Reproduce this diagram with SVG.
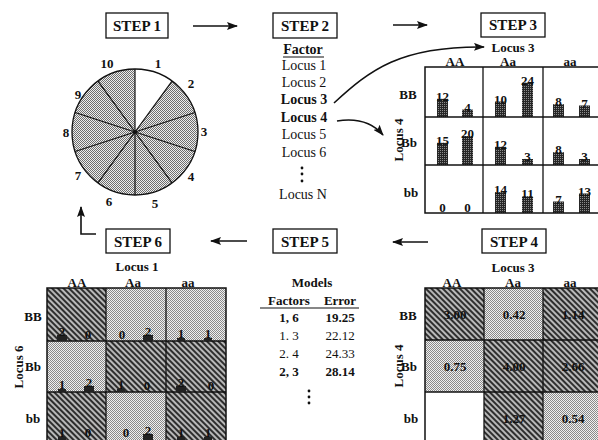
<svg xmlns="http://www.w3.org/2000/svg" width="598" height="440" viewBox="0 0 598 440">
  <style>
    text { font-family: "Liberation Serif", "Times New Roman", serif; fill: #111; }
    .b { font-weight: bold; }
    .step { font-size: 15px; font-weight: bold; text-anchor: middle; }
    .box { fill: #fff; stroke: #111; stroke-width: 1.3; }
    .lbl { font-size: 13px; font-weight: bold; text-anchor: middle; }
    .num { font-size: 13px; font-weight: bold; text-anchor: middle; }
    .list { font-size: 14px; text-anchor: middle; }
    .grid { fill: none; stroke: #111; stroke-width: 1.5; }
    .gl { stroke: #111; stroke-width: 1.3; }
    .bar { fill: url(#barfill); }
    .sbar { fill: #222; }
    .dark { fill: url(#hatch); }
    .light { fill: url(#dots); }
    .arrow { fill: none; stroke: #111; stroke-width: 1.6; marker-end: url(#head); }
    .spoke { stroke: #111; stroke-width: 1.2; }
  </style>
  <defs>
    <marker id="head" markerWidth="11" markerHeight="8" refX="10" refY="4" orient="auto" markerUnits="userSpaceOnUse">
      <path d="M0,0 L11,4 L0,8 L2,4 Z" fill="#111"/>
    </marker>
    <pattern id="piefill" width="2" height="2" patternUnits="userSpaceOnUse">
      <rect width="2" height="2" fill="#eeeeee"/>
      <rect width="1" height="1" fill="#6e6e6e"/>
      <rect x="1" y="1" width="1" height="1" fill="#6e6e6e"/>
    </pattern>
    <pattern id="dots" width="2" height="2" patternUnits="userSpaceOnUse">
      <rect width="2" height="2" fill="#f0f0f0"/>
      <rect width="1" height="1" fill="#8a8a8a"/>
      <rect x="1" y="1" width="1" height="1" fill="#8a8a8a"/>
    </pattern>
    <pattern id="hatch" width="4" height="4" patternUnits="userSpaceOnUse" patternTransform="rotate(-45)">
      <rect width="4" height="4" fill="#b8b8b8"/>
      <rect width="2" height="4" fill="#2e2e2e"/>
    </pattern>
    <pattern id="barfill" width="2" height="2" patternUnits="userSpaceOnUse">
      <rect width="2" height="2" fill="#262626"/>
      <rect width="1" height="1" fill="#8c8c8c"/>
    </pattern>
  </defs>

  <!-- connectors between the steps -->
  <g id="connectors">
    <line class="arrow" x1="193" y1="26" x2="237" y2="26"/>
    <line class="arrow" x1="393" y1="25" x2="427" y2="25"/>
    <line class="arrow" x1="428" y1="242" x2="393" y2="242"/>
    <line class="arrow" x1="247" y1="241" x2="211" y2="241"/>
    <path class="arrow" d="M96,234 L81,234 L81,207"/>
    <path class="arrow" d="M334,103 C370,70 400,46 484,47"/>
    <path class="arrow" d="M337,121 C356,118 372,122 383,135"/>
  </g>

  <!-- step 1: partition of the data into ten parts -->
  <g id="step1">
    <rect class="box" x="106" y="13" width="62" height="25"/>
    <text class="step" x="137" y="31">STEP 1</text>
    <circle cx="135" cy="132" r="63" fill="url(#piefill)"/>
    <path d="M135,132 L135,69 A63,63 0 0 1 172.03,81.03 Z" fill="#fff"/>
    <line class="spoke" x1="135" y1="132" x2="135" y2="69"/>
    <line class="spoke" x1="135" y1="132" x2="172.03" y2="81.03"/>
    <line class="spoke" x1="135" y1="132" x2="194.92" y2="112.53"/>
    <line class="spoke" x1="135" y1="132" x2="194.92" y2="151.47"/>
    <line class="spoke" x1="135" y1="132" x2="172.03" y2="182.97"/>
    <line class="spoke" x1="135" y1="132" x2="135" y2="195"/>
    <line class="spoke" x1="135" y1="132" x2="97.97" y2="182.97"/>
    <line class="spoke" x1="135" y1="132" x2="75.08" y2="151.47"/>
    <line class="spoke" x1="135" y1="132" x2="75.08" y2="112.53"/>
    <line class="spoke" x1="135" y1="132" x2="97.97" y2="81.03"/>
    <circle cx="135" cy="132" r="63" fill="none" stroke="#111" stroke-width="1.3"/>
    <circle cx="135" cy="132" r="2" fill="#111"/>
    <text class="num" x="158" y="68">1</text>
    <text class="num" x="191" y="88">2</text>
    <text class="num" x="204" y="136">3</text>
    <text class="num" x="191" y="181">4</text>
    <text class="num" x="155" y="208">5</text>
    <text class="num" x="109" y="206">6</text>
    <text class="num" x="78" y="180">7</text>
    <text class="num" x="66" y="137">8</text>
    <text class="num" x="78" y="99">9</text>
    <text class="num" x="107" y="68">10</text>
  </g>

  <!-- step 2: choose the factors -->
  <g id="step2">
    <rect class="box" x="273" y="13" width="64" height="25"/>
    <text class="step" x="305" y="31">STEP 2</text>
    <text class="list b" x="303" y="54">Factor</text>
    <line x1="283" y1="57" x2="324" y2="57" stroke="#111" stroke-width="1.2"/>
    <text class="list" x="304" y="70">Locus 1</text>
    <text class="list" x="304" y="87">Locus 2</text>
    <text class="list b" x="304" y="104">Locus 3</text>
    <text class="list b" x="304" y="122">Locus 4</text>
    <text class="list" x="304" y="139">Locus 5</text>
    <text class="list" x="304" y="157">Locus 6</text>
    <circle cx="302" cy="168" r="1.4" fill="#111"/>
    <circle cx="302" cy="174" r="1.4" fill="#111"/>
    <circle cx="302" cy="181" r="1.4" fill="#111"/>
    <text class="list" x="303" y="199">Locus N</text>
  </g>

  <!-- step 3: counts of cases and controls per genotype combination -->
  <g id="step3">
    <rect class="box" x="481" y="13" width="64" height="24"/>
    <text class="step" x="513" y="30">STEP 3</text>
    <text class="lbl" x="513" y="52">Locus 3</text>
    <text class="lbl" x="455" y="66">AA</text>
    <text class="lbl" x="508" y="66">Aa</text>
    <text class="lbl" x="570" y="66">aa</text>
    <text class="lbl" x="408" y="99">BB</text>
    <text class="lbl" x="409" y="147">Bb</text>
    <text class="lbl" x="411" y="197">bb</text>
    <text class="lbl" transform="translate(403,140) rotate(-90)">Locus 4</text>
    <!-- bars -->
    <rect class="bar" x="437" y="98.8" width="11" height="18.2"/>
    <rect class="bar" x="462" y="109.6" width="11" height="7.4"/>
    <rect class="bar" x="495" y="101.5" width="11" height="15.5"/>
    <rect class="bar" x="522" y="82.6" width="11" height="34.4"/>
    <rect class="bar" x="553" y="104.2" width="11" height="12.8"/>
    <rect class="bar" x="579" y="105.5" width="11" height="11.5"/>
    <rect class="bar" x="437" y="142.8" width="11" height="22.2"/>
    <rect class="bar" x="462" y="136" width="11" height="29"/>
    <rect class="bar" x="495" y="146.8" width="11" height="18.2"/>
    <rect class="bar" x="522" y="159" width="11" height="6"/>
    <rect class="bar" x="553" y="152.2" width="11" height="12.8"/>
    <rect class="bar" x="579" y="159" width="11" height="6"/>
    <rect class="bar" x="495" y="192.1" width="11" height="20.9"/>
    <rect class="bar" x="522" y="196.2" width="11" height="16.8"/>
    <rect class="bar" x="553" y="201.5" width="11" height="11.5"/>
    <rect class="bar" x="579" y="193.5" width="11" height="19.5"/>
    <!-- counts -->
    <text class="num" x="442.5" y="101">12</text>
    <text class="num" x="467.5" y="112">4</text>
    <text class="num" x="500.5" y="104">10</text>
    <text class="num" x="527.5" y="85">24</text>
    <text class="num" x="558.5" y="106">8</text>
    <text class="num" x="584.5" y="108">7</text>
    <text class="num" x="442.5" y="145">15</text>
    <text class="num" x="467.5" y="138">20</text>
    <text class="num" x="500.5" y="149">12</text>
    <text class="num" x="527.5" y="161">3</text>
    <text class="num" x="558.5" y="154">8</text>
    <text class="num" x="584.5" y="161">3</text>
    <text class="num" x="442.5" y="212">0</text>
    <text class="num" x="467.5" y="212">0</text>
    <text class="num" x="500.5" y="194">14</text>
    <text class="num" x="527.5" y="198">11</text>
    <text class="num" x="558.5" y="204">7</text>
    <text class="num" x="584.5" y="196">13</text>
    <!-- grid -->
    <rect class="grid" x="425" y="67" width="177" height="146"/>
    <line class="gl" x1="483" y1="67" x2="483" y2="213"/>
    <line class="gl" x1="543" y1="67" x2="543" y2="213"/>
    <line class="gl" x1="425" y1="117" x2="602" y2="117"/>
    <line class="gl" x1="425" y1="165" x2="602" y2="165"/>
  </g>

  <!-- step 4: case/control ratios, high and low risk cells -->
  <g id="step4">
    <rect class="box" x="482" y="229" width="64" height="24"/>
    <text class="step" x="514" y="247">STEP 4</text>
    <text class="lbl" x="513" y="272">Locus 3</text>
    <text class="lbl" x="452" y="287">AA</text>
    <text class="lbl" x="513" y="287">Aa</text>
    <text class="lbl" x="570" y="287">aa</text>
    <text class="lbl" x="408" y="320">BB</text>
    <text class="lbl" x="409" y="371">Bb</text>
    <text class="lbl" x="411" y="423">bb</text>
    <text class="lbl" transform="translate(403,366) rotate(-90)">Locus 4</text>
    <rect class="dark" x="425" y="288" width="59" height="52"/>
    <rect class="light" x="484" y="288" width="59" height="52"/>
    <rect class="dark" x="543" y="288" width="59" height="52"/>
    <rect class="light" x="425" y="340" width="59" height="52"/>
    <rect class="dark" x="484" y="340" width="59" height="52"/>
    <rect class="dark" x="543" y="340" width="59" height="52"/>
    <rect x="425" y="392" width="59" height="52" fill="#fff"/>
    <rect class="dark" x="484" y="392" width="59" height="52"/>
    <rect class="light" x="543" y="392" width="59" height="52"/>
    <rect class="grid" x="425" y="288" width="177" height="156"/>
    <line class="gl" x1="484" y1="288" x2="484" y2="444"/>
    <line class="gl" x1="543" y1="288" x2="543" y2="444"/>
    <line class="gl" x1="425" y1="340" x2="602" y2="340"/>
    <line class="gl" x1="425" y1="392" x2="602" y2="392"/>
    <text class="num" x="455" y="319">3.00</text>
    <text class="num" x="514" y="319">0.42</text>
    <text class="num" x="573" y="319">1.14</text>
    <text class="num" x="455" y="371">0.75</text>
    <text class="num" x="514" y="371">4.00</text>
    <text class="num" x="573" y="371">2.66</text>
    <text class="num" x="514" y="423">1.27</text>
    <text class="num" x="573" y="423">0.54</text>
  </g>

  <!-- step 5: ranked models -->
  <g id="step5">
    <rect class="box" x="273" y="229" width="64" height="24"/>
    <text class="step" x="305" y="247">STEP 5</text>
    <text class="lbl" x="312" y="287">Models</text>
    <text class="lbl" x="289" y="305">Factors</text>
    <text class="lbl" x="340" y="305">Error</text>
    <line x1="260" y1="308" x2="359" y2="308" stroke="#111" stroke-width="1.2"/>
    <text class="num" x="289" y="322">1, 6</text>
    <text class="num" x="340" y="322">19.25</text>
    <text class="list" style="font-size:13px" x="289" y="340">1. 3</text>
    <text class="list" style="font-size:13px" x="340" y="340">22.12</text>
    <text class="list" style="font-size:13px" x="289" y="358">2. 4</text>
    <text class="list" style="font-size:13px" x="340" y="358">24.33</text>
    <text class="num" x="289" y="376">2, 3</text>
    <text class="num" x="340" y="376">28.14</text>
    <circle cx="309" cy="391" r="1.4" fill="#111"/>
    <circle cx="309" cy="397" r="1.4" fill="#111"/>
    <circle cx="309" cy="403" r="1.4" fill="#111"/>
  </g>

  <!-- step 6: best model checked on the held-out part -->
  <g id="step6">
    <rect class="box" x="106" y="229" width="64" height="24"/>
    <text class="step" x="138" y="247">STEP 6</text>
    <text class="lbl" x="137" y="271">Locus 1</text>
    <text class="lbl" x="77" y="287">AA</text>
    <text class="lbl" x="133" y="287">Aa</text>
    <text class="lbl" x="188" y="287">aa</text>
    <text class="lbl" x="33" y="321">BB</text>
    <text class="lbl" x="33" y="371">Bb</text>
    <text class="lbl" x="33" y="423">bb</text>
    <text class="lbl" transform="translate(23,367) rotate(-90)">Locus 6</text>
    <rect class="dark" x="47" y="288" width="59" height="53"/>
    <rect class="light" x="106" y="288" width="60" height="53"/>
    <rect class="light" x="166" y="288" width="60" height="53"/>
    <rect class="light" x="47" y="341" width="59" height="51"/>
    <rect class="dark" x="106" y="341" width="60" height="51"/>
    <rect class="dark" x="166" y="341" width="60" height="51"/>
    <rect class="dark" x="47" y="392" width="59" height="52"/>
    <rect class="light" x="106" y="392" width="60" height="52"/>
    <rect class="dark" x="166" y="392" width="60" height="52"/>
    <rect class="grid" x="47" y="288" width="179" height="156"/>
    <line class="gl" x1="106" y1="288" x2="106" y2="444"/>
    <line class="gl" x1="166" y1="288" x2="166" y2="444"/>
    <line class="gl" x1="47" y1="341" x2="226" y2="341"/>
    <line class="gl" x1="47" y1="392" x2="226" y2="392"/>
    <!-- small bars -->
    <rect class="sbar" x="57" y="335" width="10" height="6"/>
    <rect class="sbar" x="143" y="335" width="10" height="6"/>
    <rect class="sbar" x="177" y="338" width="8" height="3"/>
    <rect class="sbar" x="204" y="338" width="8" height="3"/>
    <rect class="sbar" x="58" y="389" width="8" height="3"/>
    <rect class="sbar" x="84" y="386" width="10" height="6"/>
    <rect class="sbar" x="117" y="389" width="8" height="3"/>
    <rect class="sbar" x="176" y="386" width="10" height="6"/>
    <rect class="sbar" x="58" y="437" width="8" height="3"/>
    <rect class="sbar" x="143" y="434" width="10" height="6"/>
    <rect class="sbar" x="177" y="437" width="8" height="3"/>
    <rect class="sbar" x="204" y="437" width="8" height="3"/>
    <text class="num" x="62" y="336">2</text>
    <text class="num" x="88" y="339">0</text>
    <text class="num" x="122" y="339">0</text>
    <text class="num" x="148" y="336">2</text>
    <text class="num" x="181" y="338">1</text>
    <text class="num" x="208" y="338">1</text>
    <text class="num" x="62" y="389">1</text>
    <text class="num" x="89" y="387">2</text>
    <text class="num" x="121" y="389">1</text>
    <text class="num" x="147" y="390">0</text>
    <text class="num" x="181" y="387">2</text>
    <text class="num" x="211" y="390">0</text>
    <text class="num" x="62" y="437">1</text>
    <text class="num" x="88" y="437">0</text>
    <text class="num" x="126" y="437">0</text>
    <text class="num" x="148" y="435">2</text>
    <text class="num" x="181" y="437">1</text>
    <text class="num" x="208" y="437">1</text>
  </g>
</svg>
